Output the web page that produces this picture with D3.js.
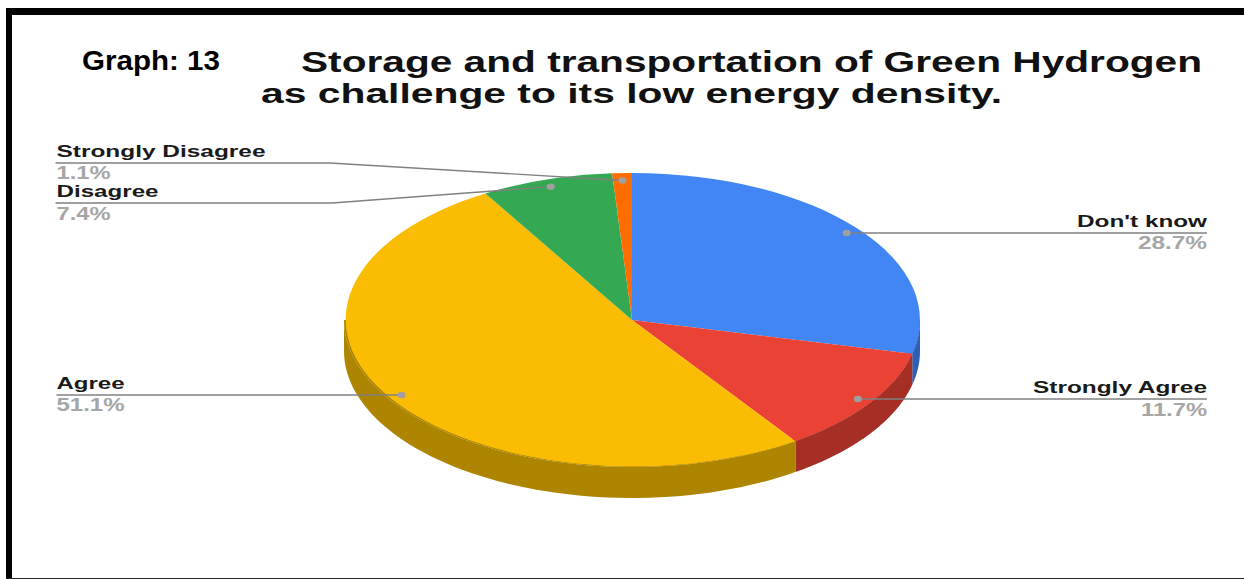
<!DOCTYPE html>
<html>
<head>
<meta charset="utf-8">
<script src="https://cdn.jsdelivr.net/npm/d3@7"></script>
<style>
html,body{margin:0;padding:0;background:#fff;overflow:hidden}
text{font-family:"Liberation Sans",Arial,sans-serif}
</style>
</head>
<body>
<svg id="c" width="1244" height="579"></svg>
<script>
const categories = ["Don't know","Strongly Agree","Agree","Disagree","Strongly Disagree"];
const values = [28.7,11.7,51.1,7.4,1.1];
const valueLabels = ["28.7%","11.7%","51.1%","7.4%","1.1%"];
const topColors = ["#4285f4","#ea4335","#fbbc04","#34a853","#ff6d01"];
const wallColors = ["#2f5fb3","#a52f25","#ad8500","#24753a","#b34c01"];
const titleLines = ["Storage and transportation of Green Hydrogen","as challenge to its low energy density."];
const graphLabel = "Graph: 13";

// layout, separate from data
const cx=632, cy=320, rx=288, ry=147, depth=31;
const labelLayout = [
  {side:"end",  x:1207, nameY:227, valY:249, lineY:233, nameW:130, valW:69},
  {side:"end",  x:1207, nameY:393, valY:416, lineY:399, nameW:174, valW:66},
  {side:"start",x:56.5, nameY:389, valY:411, lineY:395, nameW:68,  valW:68},
  {side:"start",x:56.5, nameY:197, valY:220, lineY:203, nameW:102, valW:54, elbow:332},
  {side:"start",x:56.5, nameY:157, valY:179, lineY:163, nameW:209, valW:54, elbow:330}
];

const svg=d3.select("#c");
const sx=d3.scaleLinear().domain([-1,1]).range([cx-rx,cx+rx]);
const sy=d3.scaleLinear().domain([-1,1]).range([cy-ry,cy+ry]);
const pt=(a,r=1)=>[sx(r*Math.sin(a)),sy(-r*Math.cos(a))];

// frame
svg.append("rect").attr("x",6).attr("y",8).attr("width",1238).attr("height",7).attr("fill","#000");
svg.append("rect").attr("x",6).attr("y",8).attr("width",6).attr("height",571).attr("fill","#000");
svg.append("rect").attr("x",6).attr("y",578).attr("width",1238).attr("height",1).attr("fill","#222");

const arcs=d3.pie().sort(null).value(d=>d)(values);

// side walls (front half of the ellipse only); upper edge tucked under the top face
const line=d3.line();
const wallGroup=svg.append("g");
arcs.forEach((d,i)=>{
  const a0=Math.max(d.startAngle,Math.PI/2), a1=Math.min(d.endAngle,Math.PI*1.5);
  if(a1<=a0) return;
  const as=d3.range(0,61).map(k=>a0+(a1-a0)*k/60);
  const up=as.map(a=>pt(a,0.985));
  const down=as.slice().reverse().map(a=>{const p=pt(a);return [p[0],p[1]+depth];});
  const edge=as.map(a=>pt(a));
  wallGroup.append("path").attr("d",line(edge.concat(down))+"Z").attr("fill",wallColors[i]);
  wallGroup.append("path").attr("d",line(up.concat(edge.slice().reverse()))+"Z").attr("fill",wallColors[i]);
});

// top face
const arc=d3.arc().innerRadius(0).outerRadius(1);
const topFace=svg.append("g").attr("transform",`translate(${sx(0)},${sy(0)}) scale(${rx},${ry})`);
topFace.selectAll("path").data(arcs).join("path")
  .attr("d",arc).attr("fill",(d,i)=>topColors[i]);

// leaders
arcs.forEach((d,i)=>{
  const L=labelLayout[i];
  const p=pt((d.startAngle+d.endAngle)/2,0.95);
  const pts=L.elbow?[[L.x-1,L.lineY],[L.elbow,L.lineY],p]:[[L.x,L.lineY],[p[0],L.lineY]];
  svg.append("path").attr("d",line(pts)).attr("fill","none").attr("stroke","#808080").attr("stroke-width",1.4);
  svg.append("ellipse").attr("cx",p[0]).attr("cy",L.elbow?p[1]:L.lineY).attr("rx",4).attr("ry",3.2).attr("fill","#a0a0a0");
  svg.append("text").attr("x",L.x).attr("y",L.nameY).attr("text-anchor",L.side)
    .attr("font-size",17).attr("font-weight","bold").attr("fill","#1a1a1a")
    .attr("textLength",L.nameW).attr("lengthAdjust","spacingAndGlyphs").text(categories[i]);
  svg.append("text").attr("x",L.x).attr("y",L.valY).attr("text-anchor",L.side)
    .attr("font-size",18).attr("font-weight","bold").attr("fill","#a6a6a6")
    .attr("textLength",L.valW).attr("lengthAdjust","spacingAndGlyphs").text(valueLabels[i]);
});

// titles
svg.append("text").attr("x",301).attr("y",71.5).attr("font-size",29).attr("font-weight","bold").attr("fill","#111")
  .attr("textLength",901).attr("lengthAdjust","spacingAndGlyphs").text(titleLines[0]);
svg.append("text").attr("x",261).attr("y",102.5).attr("font-size",27.5).attr("font-weight","bold").attr("fill","#111")
  .attr("textLength",741).attr("lengthAdjust","spacingAndGlyphs").text(titleLines[1]);
svg.append("text").attr("x",82).attr("y",70).attr("font-size",27).attr("font-weight","bold").attr("fill","#000")
  .attr("textLength",138).attr("lengthAdjust","spacingAndGlyphs").text(graphLabel);
</script>
</body>
</html>
